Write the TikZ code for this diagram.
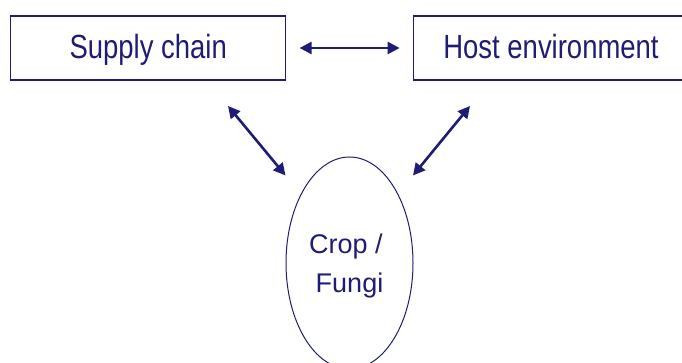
\documentclass[tikz,border=0pt]{standalone}
\usepackage{fontspec}
\setmainfont{Liberation Sans}
\newfontfamily\narrowfont[FakeStretch=0.82]{Liberation Sans}
\usetikzlibrary{arrows.meta,shapes.geometric,calc}
\definecolor{navy}{RGB}{30,28,115}
\begin{document}
\begin{tikzpicture}[x=1pt,y=-1pt,
  boxnode/.style={draw=navy,line width=1.2pt,minimum width=275pt,minimum height=64pt,
    inner sep=0pt,text=navy,font=\narrowfont\fontsize{33.5}{40}\selectfont,
    text height=22pt,text depth=0pt},
  cropnode/.style={draw=navy,line width=1pt,ellipse,minimum width=127pt,minimum height=212pt,inner sep=0pt},
  croptext/.style={align=center,text=navy,font=\fontsize{27}{39}\selectfont,inner sep=0pt},
  dblarrow/.style={draw=navy,line width=2.6pt,{Triangle[length=12pt,width=12pt]}-{Triangle[length=12pt,width=12pt]}}]
\useasboundingbox (0,0) rectangle (682,363);
\node[boxnode] (sc) at (148.2,48) {Supply chain};
\node[boxnode] (host) at (551,48) {Host environment};
\node[cropnode] (crop) at (349.5,263) {};
\node[croptext] (ct) at ($(crop.center)+(0,3.5)$) {Crop /\rule{7pt}{0pt}\\Fungi};
\coordinate (l1) at (228,106);
\coordinate (l2) at (285.5,175.5);
\coordinate (r1) at (470,106);
\coordinate (r2) at (413,175.5);
\draw[dblarrow,shorten <=13.3pt,shorten >=13.3pt] (sc.east) -- (host.west);
\draw[dblarrow] (l1) -- (l2);
\draw[dblarrow] (r1) -- (r2);
\end{tikzpicture}
\end{document}
